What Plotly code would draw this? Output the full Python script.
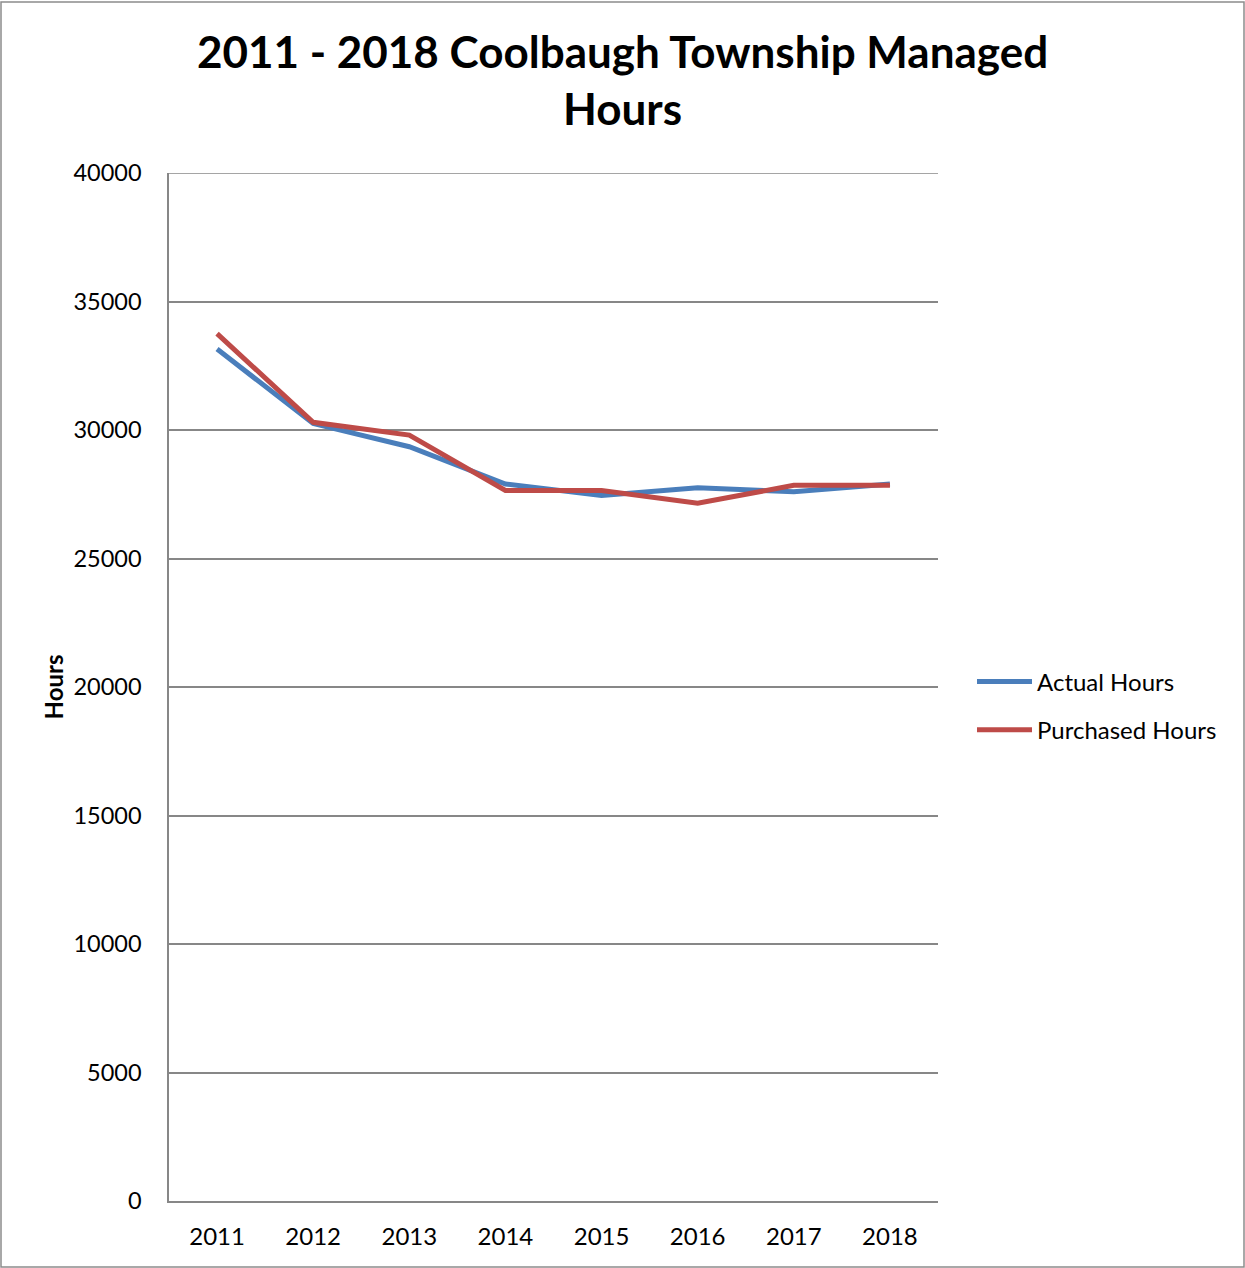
import plotly.graph_objects as go

years = ["2011", "2012", "2013", "2014", "2015", "2016", "2017", "2018"]
actual_hours = [33150, 30250, 29350, 27900, 27450, 27750, 27600, 27900]
purchased_hours = [33750, 30300, 29800, 27650, 27650, 27150, 27850, 27850]
y_ticks = [0, 5000, 10000, 15000, 20000, 25000, 30000, 35000, 40000]

W, H = 1245, 1268
L, R, T, B = 169, 307, 173, 67
FONT = "Lato"

fig = go.Figure()
fig.add_trace(go.Scatter(x=years, y=actual_hours, mode="lines", name="Actual Hours",
                         legendgroup="a",
                         line=dict(color="#4A7EBB", width=5)))
fig.add_trace(go.Scatter(x=years, y=purchased_hours, mode="lines", name="Purchased Hours",
                         legendgroup="p",
                         line=dict(color="#BE4B48", width=5)))

pw = W - L - R
ph = H - T - B
fig.add_shape(type="rect", xref="paper", yref="paper",
              x0=-(L - 1) / pw, x1=(pw + R - 1) / pw,
              y0=-(B - 1) / ph, y1=(ph + T - 2) / ph,
              line=dict(color="#8C8C8C", width=1.5), fillcolor="rgba(0,0,0,0)", layer="below")
# top gridline at the axis maximum
fig.add_shape(type="line", xref="paper", yref="y", x0=0, x1=1,
              y0=y_ticks[-1], y1=y_ticks[-1],
              line=dict(color="#878787", width=1.5), layer="below")

fig.update_layout(
    width=W, height=H,
    margin=dict(l=L, r=R, t=T, b=B, pad=0),
    paper_bgcolor="white", plot_bgcolor="white",
    font=dict(family=FONT, color="black", size=24),
    title=dict(text="<b>2011 - 2018 Coolbaugh Township Managed<br>Hours</b>",
               x=0.5, xanchor="center", y=1 - 68 / H, yanchor="middle",
               font=dict(family=FONT, size=44, color="black")),
    xaxis=dict(type="category", range=[-0.5, 7.5], showgrid=False,
               showline=True, linecolor="#878787", linewidth=1.5,
               ticks="", tickfont=dict(size=24), ticklabelstandoff=13),
    yaxis=dict(range=[0, 40000], tickvals=y_ticks, ticktext=[str(v) for v in y_ticks],
               showgrid=True, gridcolor="#878787", gridwidth=1.5,
               showline=True, linecolor="#878787", linewidth=1.5,
               zeroline=False, ticks="", tickfont=dict(size=23.5), ticklabelstandoff=21,
               title=dict(text="<b>Hours</b>", font=dict(size=24), standoff=3)),
    legend=dict(x=(972 - L) / pw, xanchor="left", y=(H - B - 706) / ph, yanchor="middle",
                font=dict(size=24), itemwidth=55, traceorder="grouped", tracegroupgap=14,
                bgcolor="rgba(0,0,0,0)"),
    showlegend=True,
)

fig.write_html("out.html", config={"displayModeBar": False},
               post_script="document.body.style.margin='0';")
